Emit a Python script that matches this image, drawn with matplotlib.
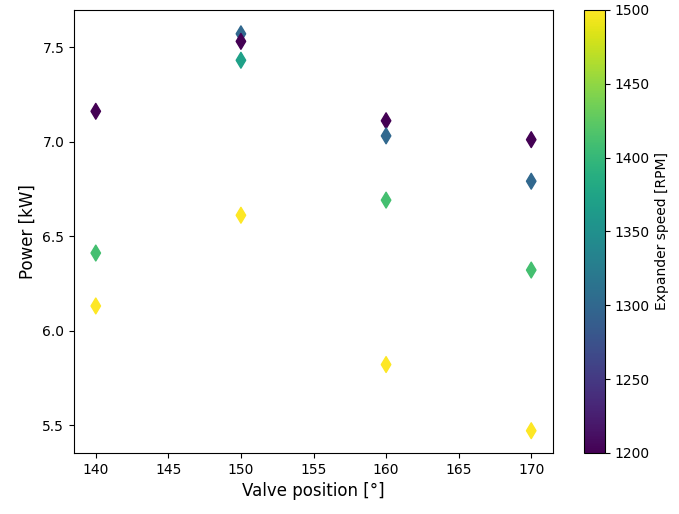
import matplotlib
matplotlib.use("Agg")
import matplotlib.pyplot as plt

# Measured points: valve position, power and expander speed
valve = [140, 140, 140,
         150, 150, 150, 150,
         160, 160, 160, 160,
         170, 170, 170, 170]
power = [7.16, 6.41, 6.13,
         7.57, 7.53, 7.43, 6.61,
         7.11, 7.03, 6.69, 5.82,
         7.01, 6.79, 6.32, 5.47]
speed = [1200, 1410, 1500,
         1300, 1200, 1370, 1500,
         1200, 1300, 1410, 1500,
         1200, 1300, 1410, 1500]

fig = plt.figure(figsize=(6.79, 5.14), dpi=100)
ax = fig.add_axes([74 / 679, 61 / 514, 479 / 679, 443 / 514])
cax = fig.add_axes([584 / 679, 61 / 514, 21 / 679, 443 / 514])

sc = ax.scatter(valve, power, c=speed, cmap="viridis", marker="d", s=65,
                vmin=1200, vmax=1500)
ax.set_ylim(5.352, 7.696)
ax.set_xlabel("Valve position [°]", fontsize=12)
ax.set_ylabel("Power [kW]", fontsize=12)

cb = fig.colorbar(sc, cax=cax)
cb.set_label("Expander speed [RPM]")

plt.savefig("out.png")
